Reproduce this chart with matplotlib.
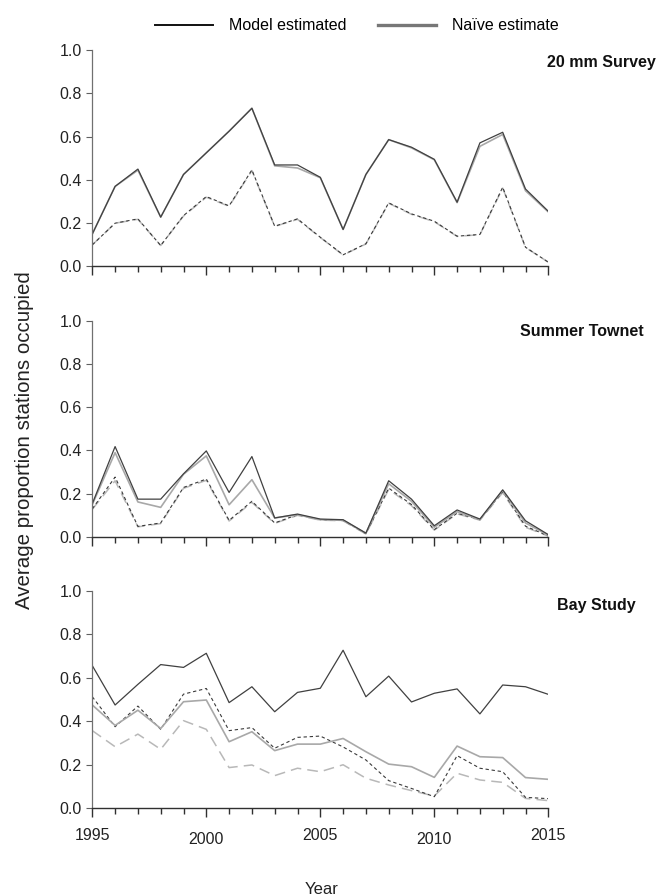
import matplotlib
matplotlib.use("Agg")
import matplotlib.pyplot as plt
from matplotlib.lines import Line2D
from matplotlib.transforms import ScaledTranslation

plt.rcParams['font.family'] = ['Liberation Sans', 'DejaVu Sans']

years = list(range(1995, 2016))

# 20 mm Survey
s20_model = [0.15, 0.37, 0.45, 0.228, 0.425, 0.525, 0.625, 0.731, 0.469, 0.469, 0.412,
             0.171, 0.425, 0.586, 0.551, 0.495, 0.297, 0.571, 0.62, 0.358, 0.255]
s20_naive = [0.15, 0.37, 0.445, 0.228, 0.425, 0.525, 0.625, 0.731, 0.465, 0.455, 0.41,
             0.171, 0.425, 0.586, 0.548, 0.493, 0.295, 0.555, 0.61, 0.35, 0.252]
s20_model_d = [0.1, 0.2, 0.22, 0.097, 0.235, 0.323, 0.28, 0.446, 0.186, 0.22, 0.135,
               0.054, 0.105, 0.294, 0.243, 0.209, 0.14, 0.148, 0.366, 0.089, 0.02]
s20_naive_d = [0.1, 0.2, 0.218, 0.097, 0.233, 0.32, 0.278, 0.443, 0.185, 0.218, 0.134,
               0.053, 0.104, 0.292, 0.241, 0.207, 0.139, 0.147, 0.362, 0.088, 0.02]

# Summer Townet
stn_model = [0.154, 0.418, 0.175, 0.175, 0.292, 0.398, 0.206, 0.372, 0.088, 0.106, 0.083,
             0.08, 0.018, 0.26, 0.175, 0.052, 0.125, 0.083, 0.218, 0.075, 0.011]
stn_naive = [0.15, 0.39, 0.162, 0.137, 0.29, 0.375, 0.149, 0.265, 0.088, 0.103, 0.08,
             0.077, 0.017, 0.246, 0.165, 0.045, 0.117, 0.08, 0.215, 0.065, 0.008]
stn_model_d = [0.13, 0.277, 0.049, 0.065, 0.229, 0.268, 0.077, 0.165, 0.065, 0.103, 0.08,
               0.077, 0.015, 0.226, 0.15, 0.034, 0.11, 0.08, 0.21, 0.05, 0.005]
stn_naive_d = [0.128, 0.26, 0.047, 0.062, 0.225, 0.262, 0.074, 0.16, 0.063, 0.1, 0.078,
               0.075, 0.014, 0.22, 0.145, 0.032, 0.107, 0.078, 0.205, 0.045, 0.004]

# Bay Study
bay_model = [0.655, 0.474, 0.569, 0.66, 0.647, 0.712, 0.485, 0.558, 0.443, 0.532, 0.551,
             0.726, 0.512, 0.607, 0.488, 0.528, 0.548, 0.433, 0.566, 0.558, 0.523]
bay_naive = [0.474, 0.38, 0.45, 0.366, 0.489, 0.497, 0.305, 0.351, 0.264, 0.294, 0.294,
             0.32, 0.259, 0.202, 0.19, 0.141, 0.285, 0.236, 0.232, 0.14, 0.132]
bay_model_d = [0.512, 0.374, 0.469, 0.362, 0.524, 0.55, 0.356, 0.37, 0.275, 0.325, 0.331,
               0.281, 0.221, 0.126, 0.09, 0.052, 0.241, 0.183, 0.167, 0.049, 0.043]
bay_naive_d = [0.356, 0.282, 0.34, 0.27, 0.402, 0.362, 0.186, 0.198, 0.149, 0.183, 0.167,
               0.199, 0.137, 0.106, 0.08, 0.055, 0.16, 0.129, 0.118, 0.044, 0.034]

panels = [
    ("20 mm Survey", s20_model, s20_naive, s20_model_d, s20_naive_d),
    ("Summer Townet", stn_model, stn_naive, stn_model_d, stn_naive_d),
    ("Bay Study", bay_model, bay_naive, bay_model_d, bay_naive_d),
]
yticks = [0.0, 0.2, 0.4, 0.6, 0.8, 1.0]
ytick_labels = ["0.0", "0.2", "0.4", "0.6", "0.8", "1.0"]
xticks_major = [1995, 2000, 2005, 2010, 2015]
xtick_labels = ["1995", "2000", "2005", "2010", "2015"]

W, H = 657, 896
fig = plt.figure(figsize=(W / 100, H / 100), dpi=100)

left = 92.3 / W
width = (548.3 - 92.3) / W
tops = [50, 320.7, 590.7]
bottoms = [266.5, 537, 808]
title_pos = [(547, 63), (520, 332), (557, 605)]

axes = []
for i, (name, m, n, md, nd) in enumerate(panels):
    b = 1 - bottoms[i] / H
    h = (bottoms[i] - tops[i]) / H
    ax = fig.add_axes([left, b, width, h])
    axes.append(ax)
    ax.plot(years, nd, color='#b8b8b8', lw=1.1, dashes=(7, 4))
    ax.plot(years, md, color='#3a3a3a', lw=0.8, dashes=(3, 2.5))
    ax.plot(years, n, color='#a8a8a8', lw=1.2)
    ax.plot(years, m, color='#404040', lw=0.9)
    ax.set_xlim(1995, 2015)
    ax.set_ylim(0, 1.0)
    for s in ['top', 'right']:
        ax.spines[s].set_visible(False)
    ax.spines['left'].set_color('#707070')
    ax.spines['bottom'].set_color('#303030')
    ax.spines['left'].set_linewidth(0.9)
    ax.spines['bottom'].set_linewidth(1.0)
    ax.set_yticks(yticks)
    ax.set_yticklabels(ytick_labels)
    ax.set_xticks(xticks_major)
    ax.set_xticks(years, minor=True)
    ax.tick_params(axis='y', length=4.5, width=0.8, color='#606060', pad=3, labelsize=11.5,
                   labelcolor='#222222')
    ax.tick_params(axis='x', which='major', length=6.5, width=1.0, color='#303030', pad=8,
                   labelsize=11.5, labelcolor='#222222')
    ax.tick_params(axis='x', which='minor', length=4, width=1.0, color='#303030')
    if i < 2:
        ax.set_xticklabels([])
    else:
        ax.set_xticklabels(xtick_labels)
        for k, lab in enumerate(ax.get_xticklabels()):
            if k % 2 == 1:
                lab.set_transform(lab.get_transform() +
                                  ScaledTranslation(0, -3.5 / 100, fig.dpi_scale_trans))
    tx, ty = title_pos[i]
    fig.text(tx / W, 1 - ty / H, name, fontsize=11.5, fontweight='bold', ha='left',
             va='center', color='#111111')

fig.text(322 / W, 1 - 889 / H, "Year", fontsize=12, ha='center', va='center', color='#222222')
fig.text(25 / W, 1 - 440 / H, "Average proportion stations occupied", fontsize=14.8,
         rotation=90, ha='center', va='center', color='#222222')

handles = [Line2D([], [], color='#111111', lw=1.4),
           Line2D([], [], color='#777777', lw=2.4)]
fig.legend(handles, ["Model estimated", "Naïve estimate"], loc='center',
           bbox_to_anchor=(357 / W, 1 - 26 / H), ncol=2, frameon=False, fontsize=11.5,
           handlelength=3.6, handletextpad=1.0, columnspacing=2.0)

fig.savefig("out.png", dpi=100)
